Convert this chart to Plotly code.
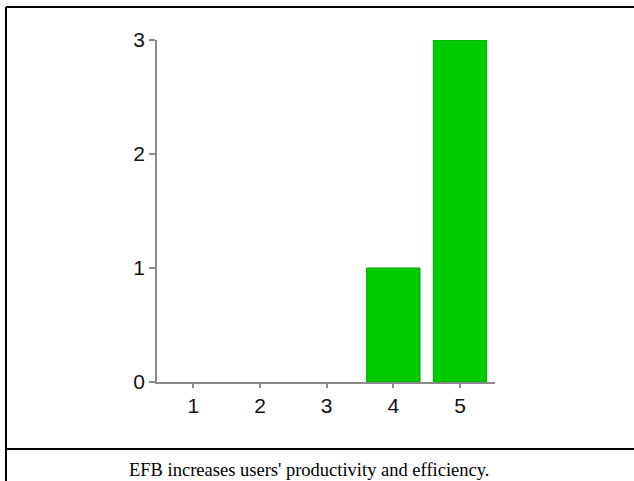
import plotly.graph_objects as go

categories = [1, 2, 3, 4, 5]
counts = [0, 0, 0, 1, 3]
y_ticks = [0, 1, 2, 3]
caption = "EFB increases users' productivity and efficiency."

W, H = 634, 481

def px_x(p):
    return p / W

def px_y(p):
    return 1 - p / H

edge_widths = [1 if c > 0 else 0 for c in counts]

fig = go.Figure()
fig.add_trace(go.Bar(
    x=categories, y=counts, width=0.8,
    marker=dict(color="rgb(0,204,0)", line=dict(color="rgb(0,165,0)", width=edge_widths)),
))

fig.update_layout(
    width=W, height=H, autosize=False,
    margin=dict(l=0, r=0, t=0, b=0, autoexpand=False),
    paper_bgcolor="white", plot_bgcolor="white",
    showlegend=False,
    xaxis=dict(
        domain=[px_x(157), px_x(495)],
        range=[0.455, 5.525],
        tickvals=categories, ticktext=[str(c) for c in categories],
        showline=True, linecolor="#8a8a8a", linewidth=1.5,
        ticks="outside", ticklen=4, tickcolor="#8a8a8a", tickwidth=1.5,
        showgrid=False, zeroline=False, automargin=False,
        tickfont=dict(family="Liberation Sans, Arial", size=21, color="#111"),
        fixedrange=True,
    ),
    yaxis=dict(
        domain=[px_y(382), px_y(40)],
        range=[0, 3],
        tickvals=y_ticks, ticktext=[str(v) for v in y_ticks],
        showline=True, linecolor="#8a8a8a", linewidth=1.5,
        ticks="outside", ticklen=6, tickcolor="#8a8a8a", tickwidth=1.5,
        showgrid=False, zeroline=False, automargin=False,
        tickfont=dict(family="Liberation Sans, Arial", size=21, color="#111"),
        fixedrange=True,
    ),
    shapes=[
        dict(type="line", xref="paper", yref="paper",
             x0=px_x(6), x1=px_x(6), y0=px_y(7), y1=0,
             line=dict(color="black", width=2)),
        dict(type="line", xref="paper", yref="paper",
             x0=px_x(6), x1=1, y0=px_y(7), y1=px_y(7),
             line=dict(color="black", width=2)),
        dict(type="line", xref="paper", yref="paper",
             x0=px_x(6), x1=1, y0=px_y(449), y1=px_y(449),
             line=dict(color="black", width=2)),
    ],
    annotations=[
        dict(text=caption, xref="paper", yref="paper",
             x=px_x(308.5), y=px_y(470), xanchor="center", yanchor="middle",
             showarrow=False,
             font=dict(family="Liberation Serif, Times New Roman", size=18.5, color="black")),
    ],
)

fig.write_html(
    "out.html",
    config={"displayModeBar": False},
    post_script="document.body.style.margin='0';document.body.style.overflow='hidden';",
)
